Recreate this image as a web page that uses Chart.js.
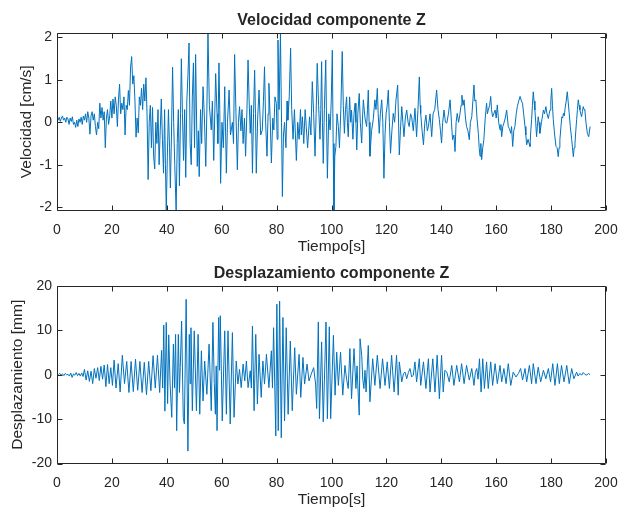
<!DOCTYPE html>
<html>
<head>
<meta charset="utf-8">
<script src="https://cdn.jsdelivr.net/npm/chart.js@4.4.0/dist/chart.umd.min.js"></script>
<style>
  html, body { margin: 0; padding: 0; background: #fff; }
  body { width: 623px; height: 512px; position: relative; overflow: hidden; }
  .panel { position: absolute; left: 0; width: 623px; height: 256px; }
</style>
</head>
<body>
<div class="panel" style="top:0"><canvas id="velChart" width="623" height="256"></canvas></div>
<div class="panel" style="top:253px"><canvas id="despChart" width="623" height="256"></canvas></div>
<script>
// Ejes y etiquetas
const ticksTiempo = [0, 20, 40, 60, 80, 100, 120, 140, 160, 180, 200];
const ticksVelocidad = [-2, -1, 0, 1, 2];
const ticksDesplazamiento = [-20, -10, 0, 10, 20];

// Velocidad componente Z: [tiempo (s), velocidad (cm/s)]
const velocidadZ = [
  [0,0.1],[0.4,0.05],[0.8,0.12],[1.2,0.02],[1.6,0.1],[2.0,0.15],[2.4,0.05],[2.8,0.1],[3.2,0.0],[3.6,0.12],
  [4.0,0.08],[4.4,-0.05],[4.8,0.1],[5.2,0.02],[5.6,0.13],[6.0,-0.05],[6.4,0.0],[6.8,-0.12],[7.2,0.05],[7.6,-0.1],
  [8.0,0.08],[8.4,0.0],[8.8,0.12],[9.2,-0.05],[9.6,0.15],[10.0,0.05],[10.4,0.2],[10.8,0.0],[11.2,0.25],[11.6,0.1],
  [12.0,-0.28],[12.4,0.15],[12.8,0.25],[13.2,0.05],[13.6,0.2],[14.0,-0.1],[14.4,-0.3],[14.8,0.0],[15.2,-0.15],[15.6,0.45],
  [16.0,0.1],[16.4,0.35],[16.8,0.05],[17.2,0.25],[17.6,-0.6],[18.0,0.1],[18.4,0.3],[18.8,-0.05],[19.2,0.15],[19.6,0.5],
  [20.0,0.1],[20.4,0.55],[20.8,0.2],[21.2,0.6],[21.6,0.4],[22.0,-0.1],[22.4,0.55],[22.8,0.9],[23.2,0.2],[23.6,0.45],
  [24.0,0.3],[24.4,0.6],[24.8,-0.3],[25.2,0.4],[25.6,0.3],[26.0,0.75],[26.4,0.4],[26.8,1.3],[27.2,1.55],[27.6,0.9],
  [28.0,1.1],[28.4,0.5],[28.8,-0.35],[29.2,0.1],[29.6,-0.25],[30.0,0.6],[30.4,0.4],[30.8,0.8],[31.2,0.3],[31.6,0.9],
  [32.0,0.5],[32.4,1.05],[32.8,0.2],[33.2,-1.35],[33.6,0.0],[34.0,0.4],[34.4,-0.6],[34.8,0.35],[35.2,-0.8],[35.6,-1.1],
  [36.0,0.0],[36.4,-0.5],[36.8,0.3],[37.2,-1.0],[37.6,-0.2],[38.0,0.55],[38.4,-0.4],[38.8,-1.2],[39.2,0.3],[39.5,-1.0],
  [39.8,-2.08],[40.2,-0.8],[40.6,0.3],[41.0,-0.6],[41.3,-1.55],[41.7,-0.3],[42.1,1.3],[42.5,0.0],[42.9,-1.0],[43.4,-2.08],
  [43.8,-0.5],[44.2,0.3],[44.6,-1.5],[45.0,0.2],[45.3,1.5],[45.7,0.2],[46.1,-0.9],[46.5,0.3],[46.9,-1.3],[47.3,0.5],
  [47.7,1.1],[48.1,1.87],[48.5,-0.5],[48.9,-1.0],[49.3,0.6],[49.7,1.4],[50.1,-0.6],[50.5,1.6],[51.1,-1.04],[51.5,-0.2],
  [51.8,-1.28],[52.3,0.3],[52.7,-0.5],[53.2,0.84],[53.7,0.1],[54.2,-1.04],[54.6,0.3],[55.0,2.1],[55.5,0.4],[56.2,-0.18],
  [56.6,0.5],[57.1,-0.9],[57.8,1.15],[58.3,0.2],[58.6,-0.5],[59.0,1.4],[59.3,0.3],[59.6,-1.44],[60.1,0.0],[60.6,-0.6],
  [61.1,0.84],[61.7,-1.2],[62.1,0.0],[62.7,0.76],[63.2,-0.3],[63.9,0.0],[64.3,-0.5],[64.7,1.6],[65.2,0.2],[65.7,-1.12],
  [66.1,0.0],[66.5,0.37],[67.0,-0.2],[67.4,0.3],[67.8,-0.5],[68.3,0.1],[68.7,-0.8],[69.2,0.3],[69.6,1.47],[70.0,0.5],
  [70.4,-0.26],[70.8,0.4],[71.2,-1.2],[71.6,0.2],[72.0,1.23],[72.3,0.2],[72.6,-1.2],[73.1,0.1],[73.6,0.76],[74.2,-0.3],
  [74.8,-0.18],[75.2,0.5],[75.6,1.31],[76.0,0.0],[76.5,-0.8],[76.9,0.2],[77.2,0.92],[77.7,0.0],[78.1,-0.96],[78.6,0.1],
  [79.0,-0.18],[79.4,0.6],[79.9,0.45],[80.2,-0.4],[80.5,1.94],[80.9,0.3],[81.4,2.1],[81.8,0.0],[82.1,-1.75],[82.5,-0.3],
  [82.9,0.0],[83.4,-0.6],[83.8,0.5],[84.1,0.05],[84.6,0.6],[85.1,1.75],[85.5,0.3],[86.0,-0.4],[86.5,0.3],[87.2,-0.9],
  [87.7,0.0],[88.2,-0.4],[88.7,0.3],[89.0,-0.3],[89.4,0.13],[89.9,-0.5],[90.4,0.3],[90.8,-0.1],[91.3,-0.6],[92.0,0.13],
  [92.5,-0.3],[93.0,0.96],[93.5,0.2],[94.0,-0.8],[94.4,0.2],[94.8,1.39],[95.3,0.4],[95.8,-0.4],[96.1,0.3],[96.4,1.43],
  [96.7,0.0],[97.0,-0.97],[97.4,0.3],[97.9,1.47],[98.2,0.0],[98.5,-1.32],[99.0,0.2],[99.5,-0.18],[99.9,0.5],[100.3,1.7],
  [100.6,-0.5],[100.9,-2.08],[101.2,-0.8],[101.6,-0.57],[102.0,0.2],[102.5,-0.1],[102.9,-0.6],[103.4,0.3],[103.9,1.67],[104.3,0.4],
  [104.7,-0.26],[105.1,0.3],[105.5,0.6],[105.8,0.0],[106.1,-0.34],[106.6,0.6],[107.0,0.0],[107.3,0.29],[107.8,-0.4],[108.2,0.2],
  [108.6,0.45],[108.9,0.0],[109.2,-0.65],[109.6,0.2],[110.1,0.68],[110.5,0.0],[111.0,-0.49],[111.3,0.1],[111.6,0.53],[112.2,0.1],
  [112.8,-0.1],[113.1,0.3],[113.4,0.76],[113.7,0.0],[114.0,-0.8],[114.6,-0.2],[115.2,0.06],[115.8,0.53],[116.2,0.3],[116.7,0.8],
  [117.0,0.2],[117.4,-0.26],[117.8,0.2],[118.3,0.53],[118.7,0.0],[119.1,-1.32],[119.5,-0.3],[119.9,0.21],[120.3,0.4],[120.7,0.76],
  [121.1,0.0],[121.5,-0.73],[122.0,-0.2],[122.5,0.21],[123.0,0.0],[123.5,0.53],[124.1,0.88],[124.4,0.1],[124.7,-0.77],[125.1,-0.2],
  [125.6,0.37],[126.0,0.0],[126.4,-0.34],[126.9,0.1],[127.4,0.29],[127.9,0.0],[128.3,-0.1],[128.8,0.2],[129.2,0.13],[129.8,-0.2],
  [130.4,0.33],[130.7,0.0],[131.0,-0.34],[131.5,0.3],[132.0,1.07],[132.3,0.4],[132.5,0.21],[133.0,-0.2],[133.5,-0.53],[134.0,0.0],
  [134.4,0.17],[134.9,-0.2],[135.3,-0.1],[135.9,0.2],[136.5,-0.34],[137.0,0.2],[137.6,0.3],[138.3,0.76],[138.8,0.3],[139.3,0.06],
  [139.7,-0.2],[140.1,-0.49],[140.5,0.0],[141.0,0.29],[141.5,0.0],[142.0,-0.02],[142.6,0.2],[143.2,0.53],[143.7,0.0],[144.1,-0.41],
  [144.6,-0.3],[145.0,-0.69],[145.4,0.0],[145.8,0.21],[146.3,0.0],[146.8,0.2],[147.2,0.4],[147.5,0.64],[147.9,0.4],[148.3,0.53],
  [148.8,0.1],[149.2,-0.1],[149.7,-0.2],[150.2,-0.41],[150.6,0.0],[151.1,0.13],[151.5,0.5],[151.9,0.88],[152.2,0.5],[152.6,0.53],
  [153.0,0.1],[153.5,-0.26],[153.8,-0.6],[154.1,-0.8],[154.4,-0.5],[154.7,-0.88],[155.1,-0.6],[155.5,-0.41],[156.0,0.1],[156.5,0.45],
  [156.8,0.2],[157.1,0.29],[157.6,0.4],[158.0,0.61],[158.3,0.3],[158.7,0.13],[159.1,0.2],[159.6,0.29],[160.0,0.1],[160.4,0.41],
  [160.9,0.0],[161.4,-0.18],[161.7,-0.05],[162.0,-0.34],[162.4,-0.1],[162.8,-0.02],[163.3,0.1],[163.8,0.29],[164.1,0.1],[164.4,-0.1],
  [164.8,-0.15],[165.3,-0.26],[165.6,-0.1],[166.0,-0.57],[166.4,-0.2],[166.8,-0.1],[167.3,0.2],[167.7,0.37],[168.2,0.5],[168.7,0.61],
  [169.2,0.5],[169.6,0.45],[170.0,0.2],[170.5,-0.1],[170.8,-0.3],[171.1,-0.53],[171.6,-0.4],[172.0,-0.5],[172.3,-0.57],[172.6,-0.2],
  [172.9,0.06],[173.2,0.4],[173.5,0.72],[173.8,0.5],[174.1,0.29],[174.4,0.0],[174.7,-0.34],[175.0,-0.1],[175.3,0.13],[175.6,0.0],
  [175.9,-0.26],[176.5,0.0],[177.2,0.29],[177.6,0.2],[178.1,0.37],[178.5,0.2],[179.0,0.09],[179.3,0.2],[179.6,0.29],[179.9,0.5],
  [180.2,0.8],[180.5,0.4],[180.8,0.06],[181.3,-0.3],[181.8,-0.57],[182.2,-0.6],[182.6,-0.81],[182.9,-0.6],[183.2,-0.41],[183.6,-0.1],
  [183.9,0.13],[184.2,0.1],[184.5,0.21],[184.8,0.15],[185.1,0.33],[185.5,0.5],[185.9,0.72],[186.2,0.5],[186.6,0.21],[187.0,-0.1],
  [187.5,-0.41],[187.8,-0.6],[188.1,-0.81],[188.4,-0.6],[188.7,-0.49],[189.0,-0.2],[189.3,0.06],[189.6,0.3],[189.9,0.53],[190.2,0.4],
  [190.5,0.29],[190.8,0.2],[191.1,0.13],[191.4,0.25],[191.7,0.37],[192.0,0.3],[192.3,0.29],[192.7,0.0],[193.2,-0.26],[193.7,-0.34],
  [194.2,-0.1]
];

// Desplazamiento componente Z: [tiempo (s), desplazamiento (mm)]
const desplazamientoZ = [
  [0,0.2],[0.5,0],[1,0.3],[1.5,-0.1],[2,0.2],[2.5,-0.2],[3,0.3],[3.5,0],[4,0.1],[4.5,-0.3],
  [5,0.4],[5.5,-0.6],[6,0.2],[6.5,-0.1],[7,0.5],[7.5,-0.2],[8,0.3],[8.5,-0.3],[9,0.4],[9.5,-0.4],
  [10,1.2],[10.6,-1.2],[11.2,0.9],[11.8,-1.5],[12.4,0.8],[13,-2],[13.6,1.4],[14.2,-0.8],[14.8,1.6],[15.4,-1.3],
  [16,1.9],[16.6,-1],[17.2,2.2],[17.8,-2.7],[18.4,2.3],[19,-2],[19.6,1.6],[20.2,-2.4],[20.8,3.3],[21.5,-3],
  [22.3,2.5],[23,-3.9],[23.8,4.4],[24.6,-2],[25.4,3],[26.2,-4],[27,3],[27.8,-3.8],[28.6,3.5],[29.4,-3.5],
  [30.2,3],[31,-4],[31.8,2.8],[32.6,-4.5],[33.4,3],[34.2,-3.6],[35,4.3],[35.8,-3],[36.6,4.4],[37.4,-4],
  [38.1,5.5],[38.5,-3],[38.9,11.2],[39.3,-8.2],[39.8,11.8],[40.3,-6.5],[40.7,9],[41.2,-2.1],[41.8,-9.6],[42.4,6.9],
  [42.8,-3],[43.2,9.1],[43.6,-12.6],[44.2,9.1],[44.6,-4],[44.9,1.6],[45.4,12.1],[46,-9.6],[46.4,-11.1],[47.05,17],
  [47.7,-17.2],[48.2,9.1],[48.5,-2],[48.8,10.6],[49.3,-8.1],[50,9.9],[50.8,-8.1],[51.4,9.1],[52,-8.9],[52.6,5.4],
  [53.2,-5.9],[53.8,3.1],[54.6,-4.4],[55.4,6.9],[56.2,-8.1],[56.8,11.8],[57.3,-2],[57.7,-8.9],[58,2],[58.3,-12.6],
  [58.9,12.9],[59.2,1],[59.5,13.3],[60.2,-10.4],[61.1,9.9],[61.7,-8.9],[62.3,9.9],[63.1,-11.1],[63.9,9.5],[64.5,-9.6],
  [65.3,3.1],[65.9,-2.1],[66.5,1.2],[67.1,-2.9],[67.8,2.4],[68.4,-1.4],[69,3.1],[69.6,-2.9],[70.4,0.9],[70.8,-3],
  [71.2,11],[71.8,-8.1],[72.4,9.1],[73,-6.6],[73.6,4.6],[74.4,-5.1],[75,3.1],[75.6,-2.1],[76.3,4.6],[77.2,-2.9],
  [78.1,5.4],[78.5,-3],[78.9,10.6],[79.7,-13.8],[80.1,15.9],[80.6,-12.6],[81.1,16.6],[81.7,-14.2],[82.3,12.9],[82.9,-10.4],
  [83.5,10.6],[84.2,-8.9],[85,7.6],[85.7,-8.1],[86.6,6.1],[87.2,-4.4],[88.2,4.6],[88.8,-5.1],[89.6,3.9],[90.2,-2.1],
  [91.1,2.4],[91.8,-1.4],[92.6,0.1],[93.5,1.6],[94.2,-2.1],[94.6,-7.6],[95.2,11.9],[95.6,-9.9],[96.4,7.4],[97,-10.6],
  [98,11.9],[98.5,-9.9],[99.2,10.8],[99.7,-9.9],[100.7,8.9],[101.3,-4.6],[101.9,5.1],[102.5,-2.4],[103.3,5.1],[104.1,-4.6],
  [104.9,2.1],[105.5,-1],[106.1,-3.1],[106.7,5.9],[107.3,-5.4],[108.2,5.9],[108.9,-3.1],[109.3,2],[109.8,-5.4],[110.1,-9.1],
  [110.4,8.1],[111,4.4],[111.4,-1],[111.8,-3.1],[112.2,1],[112.6,-3.9],[113.4,6.6],[114,-6.1],[115,3.6],[115.8,-2.4],
  [116.7,4.4],[117.7,-3.1],[118.6,3.6],[119.5,-2.4],[120.3,2.9],[121.1,-3.1],[121.9,4.4],[122.8,-3.9],[123.7,4.4],[124.3,-4.6],
  [124.7,2.9],[125.6,-1.6],[126.2,0.2],[126.8,0.6],[127.4,-0.9],[128,0.5],[128.6,1.4],[129.2,-0.5],[129.8,-0.1],[130.4,2.9],
  [131,-1.6],[132,3.6],[132.5,-2.4],[133.5,2.9],[134.4,-3.1],[135.3,3.6],[135.9,-3.9],[136.9,3.6],[137.7,-3.9],[138.5,4.4],
  [139.3,-5.4],[140.1,4.4],[140.7,-3.9],[141.3,1],[142,0.6],[142.9,-1.6],[143.8,2.1],[144.6,-2.4],[145.6,2.1],[146.6,-1.6],
  [147.4,2.5],[148.3,-2],[149.2,2.1],[150.2,-1.2],[151.1,1.4],[151.9,-2.4],[152.4,0.5],[152.9,1.4],[153.4,-1],[153.9,3.6],
  [154.5,-3.9],[155.1,3.6],[155.7,-3.1],[156.5,2.9],[157.1,-3.1],[158,2.9],[158.7,-2.4],[159.6,2.5],[160.4,-2],[161.4,2.1],
  [162,-1.6],[162.8,1.4],[163.6,-2],[164.4,2.5],[165.3,-2.4],[166.2,0.6],[167.2,-0.5],[168.1,0.3],[168.9,1.4],[169.6,-1.2],
  [170.5,1.4],[171.1,-1.6],[172.1,2.1],[172.9,-2],[173.5,2.5],[174.5,-2],[175.3,1.7],[176.2,-1.6],[177.2,1],[178.1,-0.9],
  [179,1.4],[179.8,-1.6],[180.6,2.5],[181.4,-2.4],[182.3,2.5],[183,-2],[183.8,2.1],[184.7,-1.6],[185.7,2.1],[186.6,-2],
  [187.5,1.4],[188.3,-0.9],[189.3,0.6],[189.8,-0.3],[190.5,0.3],[191.1,-0.1],[191.7,0.5],[192.3,0.1],[193,-0.1],[193.6,0.3],
  [194.2,0]
];

const AZUL = '#0072BD';
const GRIS = '#262626';
const FUENTE = "'Liberation Sans', Arial, Helvetica, sans-serif";

// caja completa con marcas hacia dentro, como en MATLAB
const marcoMatlab = {
  id: 'marcoMatlab',
  afterDraw(chart) {
    const { ctx, chartArea: a, scales: { x, y } } = chart;
    const L = Math.round(a.left) + 0.5, R = Math.round(a.right) - 0.5;
    const T = Math.round(a.top) + 0.5, B = Math.round(a.bottom) - 0.5;
    ctx.save();
    ctx.strokeStyle = GRIS;
    ctx.lineWidth = 1;
    ctx.beginPath();
    ctx.rect(L, T, R - L, B - T);
    x.ticks.forEach(t => {
      const px = Math.round(x.getPixelForValue(t.value)) + 0.5;
      ctx.moveTo(px, B); ctx.lineTo(px, B - 5);
      ctx.moveTo(px, T); ctx.lineTo(px, T + 5);
    });
    y.ticks.forEach(t => {
      const py = Math.round(y.getPixelForValue(t.value)) + 0.5;
      ctx.moveTo(L, py); ctx.lineTo(L + 5, py);
      ctx.moveTo(R, py); ctx.lineTo(R - 5, py);
    });
    ctx.stroke();
    ctx.restore();
  }
};

function crearGrafico(id, muestras, titulo, etiquetaY, yMin, yMax, ticksY, padTituloY) {
  return new Chart(document.getElementById(id), {
    type: 'line',
    data: {
      datasets: [{
        data: muestras.map(([t, v]) => ({ x: t, y: v })),
        borderColor: AZUL,
        borderWidth: 1,
        pointRadius: 0,
        tension: 0,
        fill: false
      }]
    },
    options: {
      responsive: false,
      animation: false,
      events: [],
      layout: { padding: { left: 0, right: 17, top: 0, bottom: 0 } },
      plugins: {
        legend: { display: false },
        tooltip: { enabled: false },
        title: {
          display: true,
          text: titulo,
          fullSize: false,
          color: GRIS,
          font: { family: FUENTE, size: 16, weight: 'bold' },
          padding: { top: 10.5, bottom: 3.3 }
        }
      },
      scales: {
        x: {
          type: 'linear',
          min: 0,
          max: 200,
          grid: { display: false, drawTicks: false },
          border: { display: false },
          afterBuildTicks: s => { s.ticks = ticksTiempo.map(v => ({ value: v })); },
          afterFit: s => { s.height = 45.5; s.paddingLeft = 0; s.paddingRight = 0; },
          ticks: { color: GRIS, padding: 11, maxRotation: 0, font: { family: FUENTE, size: 14 } },
          title: {
            display: true,
            text: 'Tiempo[s]',
            color: GRIS,
            font: { family: FUENTE, size: 15.5 },
            padding: { top: 0, bottom: 0 }
          }
        },
        y: {
          min: yMin,
          max: yMax,
          grid: { display: false, drawTicks: false },
          border: { display: false },
          afterBuildTicks: s => { s.ticks = ticksY.map(v => ({ value: v })); },
          afterFit: s => { s.width = 57; },
          ticks: { color: GRIS, padding: 5, font: { family: FUENTE, size: 14 } },
          title: {
            display: true,
            text: etiquetaY,
            color: GRIS,
            font: { family: FUENTE, size: 15.5 },
            padding: { top: padTituloY, bottom: 0 }
          }
        }
      }
    },
    plugins: [marcoMatlab]
  });
}

crearGrafico('velChart', velocidadZ, 'Velocidad componente Z', 'Velocidad [cm/s]', -2.08, 2.106, ticksVelocidad, 17.5);
crearGrafico('despChart', desplazamientoZ, 'Desplazamiento componente Z', 'Desplazamiento [mm]', -20, 20, ticksDesplazamiento, 8.5);
</script>
</body>
</html>
